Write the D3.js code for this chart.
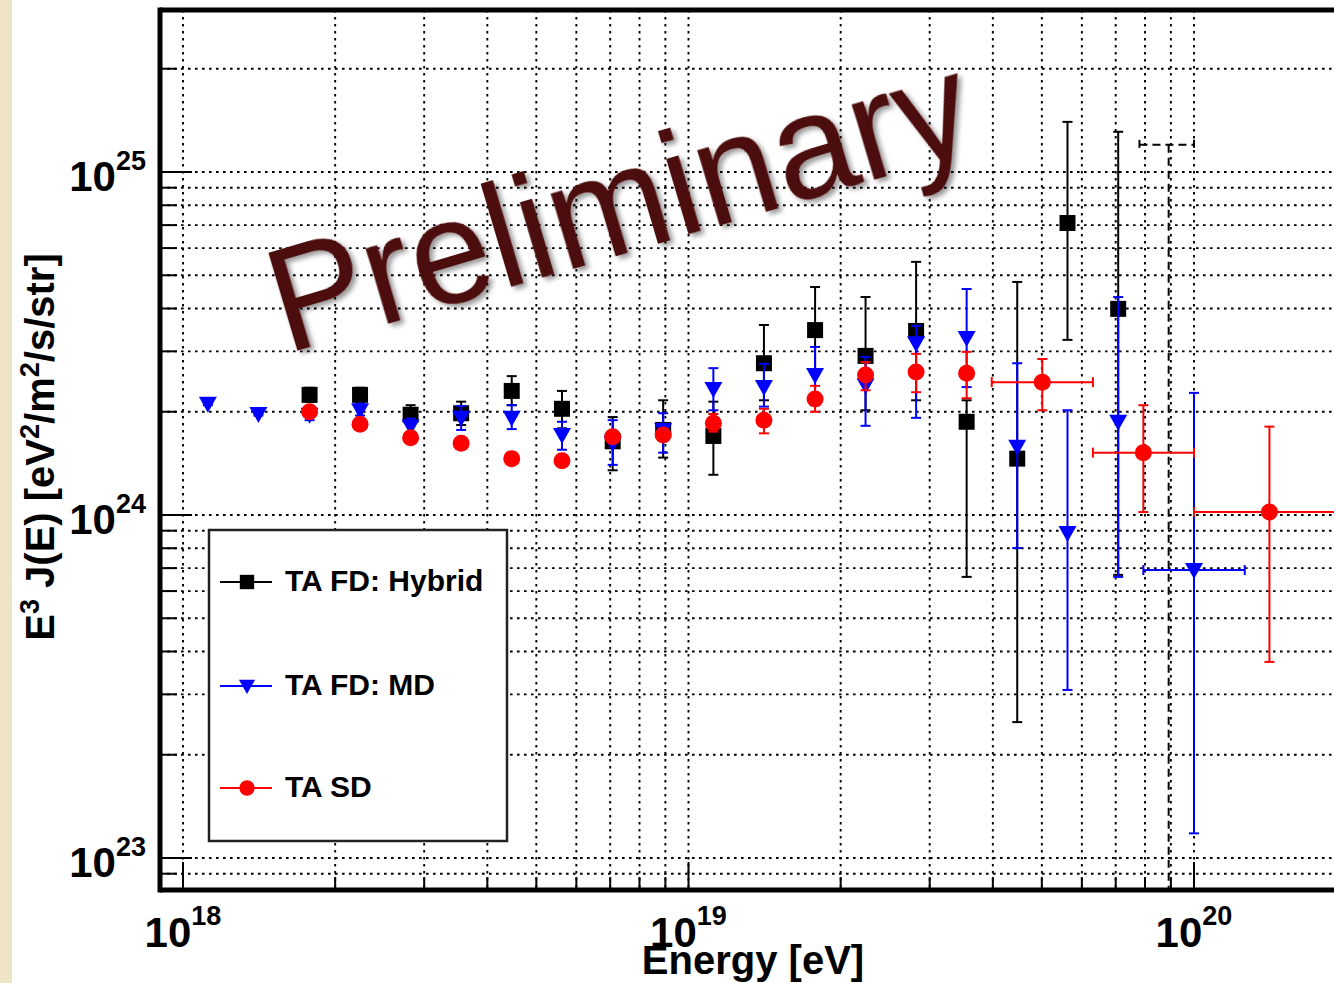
<!DOCTYPE html>
<html>
<head>
<meta charset="utf-8">
<script src="https://cdn.jsdelivr.net/npm/d3@7"></script>
<style>
	body { margin:0; background:#fff; }
	svg { display:block; }
	text { font-family: "Liberation Sans", Arial, Helvetica, sans-serif; }
</style>
</head>
<body>
<div id="graphZone"></div>
<script>
/************************************ Data *******************************/
// TA FD: Hybrid  (E in eV, E^3 J(E) in eV^2/m^2/s/str)
var hybE  = [1.78e18, 2.24e18, 2.82e18, 3.55e18, 4.47e18, 5.62e18, 7.08e18, 8.91e18, 1.12e19,
			 1.41e19, 1.78e19, 2.24e19, 2.82e19, 3.55e19, 4.47e19, 5.62e19, 7.08e19];
var hybV  = [2.24e24, 2.24e24, 1.96e24, 1.98e24, 2.30e24, 2.04e24, 1.64e24, 1.77e24, 1.70e24,
			 2.77e24, 3.46e24, 2.91e24, 3.44e24, 1.87e24, 1.46e24, 7.10e24, 3.99e24];
var hybHi = [2.35e24, 2.35e24, 2.09e24, 2.14e24, 2.54e24, 2.30e24, 1.93e24, 2.16e24, 2.14e24,
			 3.58e24, 4.62e24, 4.32e24, 5.47e24, 2.16e24, 4.78e24, 1.40e25, 1.31e25];
var hybLo = [2.14e24, 2.14e24, 1.84e24, 1.83e24, 2.09e24, 1.79e24, 1.35e24, 1.47e24, 1.31e24,
			 2.16e24, 2.61e24, 2.02e24, 2.16e24, 6.60e23, 2.49e23, 3.24e24, 6.69e23];
// dashed hybrid bin (limit)
var hybLimE = [8.91e19], hybLimHi = [1.20e25], hybLimLo = [5e22], hybLimXlo = [7.80e19], hybLimXhi = [1.0e20];

// TA FD: MD
var mdE  = [1.12e18, 1.41e18, 1.78e18, 2.24e18, 2.82e18, 3.55e18, 4.47e18, 5.62e18, 7.08e18, 8.91e18,
			1.12e19, 1.41e19, 1.78e19, 2.24e19, 2.82e19, 3.55e19, 4.47e19, 5.62e19, 7.08e19, 1.0e20];
var mdV  = [2.11e24, 1.97e24, 1.96e24, 2.02e24, 1.81e24, 1.92e24, 1.92e24, 1.71e24, 1.62e24, 1.77e24,
			2.33e24, 2.36e24, 2.56e24, 2.39e24, 3.17e24, 3.28e24, 1.58e24, 8.86e23, 1.87e24, 6.91e23];
var mdHi = [2.13e24, 1.99e24, 2.02e24, 2.11e24, 1.91e24, 2.08e24, 2.09e24, 1.87e24, 1.89e24, 1.98e24,
			2.68e24, 2.76e24, 3.09e24, 2.89e24, 3.56e24, 4.56e24, 2.77e24, 2.02e24, 4.32e24, 2.27e24];
var mdLo = [2.09e24, 1.95e24, 1.89e24, 1.95e24, 1.71e24, 1.77e24, 1.78e24, 1.55e24, 1.40e24, 1.52e24,
			2.02e24, 2.07e24, 2.09e24, 1.82e24, 1.92e24, 2.36e24, 8.01e23, 3.09e23, 6.60e23, 1.18e23];
var mdXlo = [null, null, null, null, null, null, null, null, null, null,
			 null, null, null, null, null, null, null, null, null, 7.94e19];
var mdXhi = [null, null, null, null, null, null, null, null, null, null,
			 null, null, null, null, null, null, null, null, null, 1.26e20];

// TA SD
var sdE  = [1.78e18, 2.24e18, 2.82e18, 3.55e18, 4.47e18, 5.62e18, 7.08e18, 8.91e18, 1.12e19,
			1.41e19, 1.78e19, 2.24e19, 2.82e19, 3.55e19, 5.01e19, 7.94e19, 1.41e20];
var sdV  = [2.00e24, 1.84e24, 1.68e24, 1.62e24, 1.46e24, 1.44e24, 1.69e24, 1.71e24, 1.85e24,
			1.89e24, 2.18e24, 2.56e24, 2.61e24, 2.59e24, 2.44e24, 1.52e24, 1.02e24];
var sdHi = [2.02e24, 1.86e24, 1.70e24, 1.64e24, 1.48e24, 1.46e24, 1.72e24, 1.75e24, 1.97e24,
			2.04e24, 2.38e24, 2.79e24, 2.95e24, 2.99e24, 2.85e24, 2.09e24, 1.81e24];
var sdLo = [1.98e24, 1.82e24, 1.66e24, 1.60e24, 1.44e24, 1.42e24, 1.66e24, 1.67e24, 1.75e24,
			1.73e24, 2.00e24, 2.31e24, 2.28e24, 2.19e24, 2.02e24, 1.02e24, 3.73e23];
var sdXlo = [null, null, null, null, null, null, null, null, null,
			 null, null, null, null, null, 3.98e19, 6.31e19, 1.0e20];
var sdXhi = [null, null, null, null, null, null, null, null, null,
			 null, null, null, null, null, 6.31e19, 1.0e20, 2.0e20];

var xLabelExp = [18, 19, 20];
var yLabelExp = [23, 24, 25];
var legendNames = ["TA FD: Hybrid", "TA FD: MD", "TA SD"];

/************************************ Setup *******************************/
var W = 1334, H = 983;
var fr = {left: 160, top: 10, right: 1345, bottom: 890};

var x = d3.scaleLog().domain([1e18, 1e20]).range([183, 1194]);
var y = d3.scaleLog().domain([1e23, 1e25]).range([858, 172]);

var svg = d3.select("#graphZone").append("svg")
			.attr("width", W).attr("height", H);

var defs = svg.append("defs");
defs.append("clipPath").attr("id", "plotClip")
	.append("rect").attr("x", fr.left + 2).attr("y", fr.top + 2)
	.attr("width", fr.right - fr.left).attr("height", fr.bottom - fr.top - 4);
var sh = defs.append("filter").attr("id", "shadow")
	.attr("x", "-10%").attr("y", "-10%").attr("width", "130%").attr("height", "130%");
sh.append("feDropShadow").attr("dx", 3).attr("dy", 4).attr("stdDeviation", 2.5)
	.attr("flood-color", "#000").attr("flood-opacity", 0.4);

// beige strip at left
svg.append("rect").attr("x", 0).attr("y", 0).attr("width", 12).attr("height", H)
	.style("fill", "#eee4c6");

// all log ticks inside the frame
function logTicks(scale, lo, hi, p0, p1) {
	var out = [];
	for (var d = lo; d <= hi; d++) {
		for (var k = 1; k <= 9; k++) {
			var v = k * Math.pow(10, d), p = scale(v);
			if (p > Math.min(p0, p1) + 3 && p < Math.max(p0, p1) - 3) out.push({v: v, major: k == 1});
		}
	}
	return out;
}
var xTicks = logTicks(x, 17, 20, fr.left, W);
var yTicks = logTicks(y, 22, 25, fr.top, fr.bottom);

/************************************ Grid *******************************/
var grid = svg.append("g").attr("clip-path", "url(#plotClip)")
	.style("stroke", "#000").style("stroke-width", 1.9).style("stroke-dasharray", "2.6,4.4");
grid.selectAll(".gx").data(xTicks).enter().append("line")
	.attr("x1", function(d) { return x(d.v); }).attr("x2", function(d) { return x(d.v); })
	.attr("y1", fr.top).attr("y2", fr.bottom);
grid.selectAll(".gy").data(yTicks).enter().append("line")
	.attr("y1", function(d) { return y(d.v); }).attr("y2", function(d) { return y(d.v); })
	.attr("x1", fr.left).attr("x2", W);

/************************************ Data marks *******************************/
var plot = svg.append("g").attr("clip-path", "url(#plotClip)");

function drawSeries(E, V, Hi, Lo, Xlo, Xhi, color, marker) {
	var g = plot.append("g");
	var pts = E.map(function(e, i) {
		return {e: e, v: V[i], hi: Hi[i], lo: Lo[i], xlo: Xlo ? Xlo[i] : null, xhi: Xhi ? Xhi[i] : null};
	});
	var st = function(s) { return s.style("stroke", color).style("stroke-width", 2).style("fill", "none"); };
	// vertical bars
	st(g.selectAll(".ev").data(pts).enter().append("line"))
		.attr("x1", function(d) { return x(d.e); }).attr("x2", function(d) { return x(d.e); })
		.attr("y1", function(d) { return y(d.hi); }).attr("y2", function(d) { return y(d.lo); });
	st(g.selectAll(".ch").data(pts).enter().append("line"))
		.attr("x1", function(d) { return x(d.e) - 5; }).attr("x2", function(d) { return x(d.e) + 5; })
		.attr("y1", function(d) { return y(d.hi); }).attr("y2", function(d) { return y(d.hi); });
	st(g.selectAll(".cl").data(pts).enter().append("line"))
		.attr("x1", function(d) { return x(d.e) - 5; }).attr("x2", function(d) { return x(d.e) + 5; })
		.attr("y1", function(d) { return y(d.lo); }).attr("y2", function(d) { return y(d.lo); });
	// horizontal bars
	var hp = pts.filter(function(d) { return d.xlo; });
	st(g.selectAll(".eh").data(hp).enter().append("line"))
		.attr("x1", function(d) { return x(d.xlo); }).attr("x2", function(d) { return x(d.xhi); })
		.attr("y1", function(d) { return y(d.v); }).attr("y2", function(d) { return y(d.v); });
	st(g.selectAll(".cx").data(hp).enter().append("line"))
		.attr("x1", function(d) { return x(d.xlo); }).attr("x2", function(d) { return x(d.xlo); })
		.attr("y1", function(d) { return y(d.v) - 5; }).attr("y2", function(d) { return y(d.v) + 5; });
	st(g.selectAll(".cx2").data(hp).enter().append("line"))
		.attr("x1", function(d) { return x(d.xhi); }).attr("x2", function(d) { return x(d.xhi); })
		.attr("y1", function(d) { return y(d.v) - 5; }).attr("y2", function(d) { return y(d.v) + 5; });
	// markers
	g.selectAll(".mk").data(pts).enter().append("path")
		.attr("transform", function(d) { return "translate(" + x(d.e) + "," + y(d.v) + ")"; })
		.attr("d", marker)
		.style("fill", color);
}

var mSquare = "M-8,-8H8V8H-8Z";
var mTri = "M-9,-7L9,-7L0,9Z";
var mCircle = d3.symbol().type(d3.symbolCircle).size(Math.PI * 8.5 * 8.5)();

// dashed hybrid bin
var lim = plot.append("g").style("stroke", "#000").style("stroke-width", 2)
	.style("stroke-dasharray", "8,5").style("fill", "none");
hybLimE.forEach(function(e, i) {
	lim.append("line").attr("x1", x(e)).attr("x2", x(e)).attr("y1", y(hybLimHi[i])).attr("y2", y(hybLimLo[i]));
	lim.append("line").attr("x1", x(hybLimXlo[i])).attr("x2", x(hybLimXhi[i]))
		.attr("y1", y(hybLimHi[i])).attr("y2", y(hybLimHi[i]));
	[hybLimXlo[i], hybLimXhi[i]].forEach(function(xe) {
		lim.append("line").attr("x1", x(xe)).attr("x2", x(xe)).style("stroke-dasharray", null)
			.attr("y1", y(hybLimHi[i]) - 5).attr("y2", y(hybLimHi[i]) + 5);
	});
});

drawSeries(hybE, hybV, hybHi, hybLo, null, null, "#000", mSquare);
drawSeries(mdE, mdV, mdHi, mdLo, mdXlo, mdXhi, "#0000ff", mTri);
drawSeries(sdE, sdV, sdHi, sdLo, sdXlo, sdXhi, "#ff0000", mCircle);

/************************************ Preliminary *******************************/
svg.append("text")
	.attr("transform", "translate(286,354) rotate(-16.5)")
	.attr("filter", "url(#shadow)")
	.style("font-size", "148px").style("fill", "#4b0909")
	.attr("textLength", 724).attr("lengthAdjust", "spacingAndGlyphs")
	.text("Preliminary");

/************************************ Frame & axes *******************************/
var ax = svg.append("g").style("stroke", "#000");
ax.selectAll(".tx").data(xTicks).enter().append("line")
	.attr("x1", function(d) { return x(d.v); }).attr("x2", function(d) { return x(d.v); })
	.attr("y1", fr.bottom).attr("y2", function(d) { return fr.bottom - (d.major ? 28 : 13); })
	.style("stroke-width", 2);
ax.selectAll(".ty").data(yTicks).enter().append("line")
	.attr("y1", function(d) { return y(d.v); }).attr("y2", function(d) { return y(d.v); })
	.attr("x1", fr.left).attr("x2", function(d) { return fr.left + (d.major ? 32 : 17); })
	.style("stroke-width", 2);

ax.append("line").attr("x1", fr.left).attr("x2", fr.left).attr("y1", fr.top - 2.5).attr("y2", fr.bottom + 2.5)
	.style("stroke-width", 5);
ax.append("line").attr("x1", fr.left).attr("x2", W).attr("y1", fr.top).attr("y2", fr.top)
	.style("stroke-width", 5);
ax.append("line").attr("x1", fr.left).attr("x2", W).attr("y1", fr.bottom).attr("y2", fr.bottom)
	.style("stroke-width", 5);

// tick labels
var xl = svg.selectAll(".xl").data(xLabelExp).enter().append("text")
	.attr("x", function(d) { return x(Math.pow(10, d)); }).attr("y", 947)
	.attr("text-anchor", "middle")
	.style("font-size", "42px").style("font-weight", "bold");
xl.append("tspan").text("10");
xl.append("tspan").attr("dy", -22).style("font-size", "27px").text(function(d) { return d; });

var yl = svg.selectAll(".yl").data(yLabelExp).enter().append("text")
	.attr("x", 146).attr("y", function(d) { return y(Math.pow(10, d)) + 19; })
	.attr("text-anchor", "end")
	.style("font-size", "42px").style("font-weight", "bold");
yl.append("tspan").text("10");
yl.append("tspan").attr("dy", -21).style("font-size", "27px").text(function(d) { return d; });

// axis titles
svg.append("text").attr("x", 753).attr("y", 974).attr("text-anchor", "middle")
	.style("font-size", "40px").style("font-weight", "bold").text("Energy [eV]");

var yt = svg.append("text").attr("transform", "translate(54,447) rotate(-90)")
	.attr("text-anchor", "middle").style("font-size", "40px").style("font-weight", "bold");
yt.append("tspan").text("E");
yt.append("tspan").attr("dy", -15).style("font-size", "27px").text("3");
yt.append("tspan").attr("dy", 15).text(" J(E) [eV");
yt.append("tspan").attr("dy", -15).style("font-size", "27px").text("2");
yt.append("tspan").attr("dy", 15).text("/m");
yt.append("tspan").attr("dy", -15).style("font-size", "27px").text("2");
yt.append("tspan").attr("dy", 15).text("/s/str]");

/************************************ Legend *******************************/
var leg = svg.append("g");
leg.append("rect").attr("x", 209).attr("y", 530).attr("width", 298).attr("height", 311)
	.style("fill", "#fff").style("stroke", "#222").style("stroke-width", 2.5);
var legColors = ["#000", "#0000ff", "#ff0000"];
var legMarks = [mSquare, mTri, mCircle];
var legY = [582, 686, 788];
legendNames.forEach(function(name, i) {
	leg.append("line").attr("x1", 220).attr("x2", 272).attr("y1", legY[i]).attr("y2", legY[i])
		.style("stroke", legColors[i]).style("stroke-width", 2);
	leg.append("path").attr("transform", "translate(247," + legY[i] + ") scale(0.9)")
		.attr("d", legMarks[i]).style("fill", legColors[i]);
	leg.append("text").attr("x", 285).attr("y", legY[i] + 9)
		.style("font-size", "30px").style("font-weight", "bold").text(name);
});
</script>
</body>
</html>
